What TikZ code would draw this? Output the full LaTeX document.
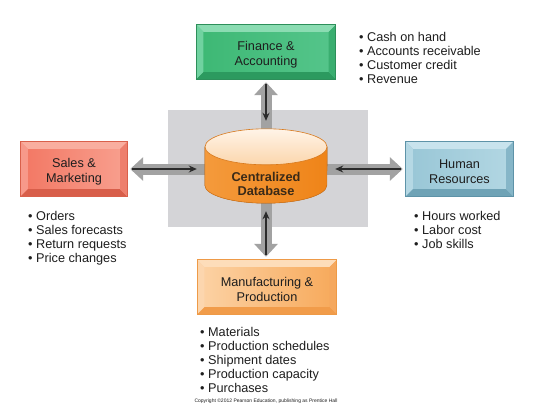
\documentclass[tikz,border=0pt]{standalone}
\usepackage{fontspec}
\setmainfont{Liberation Sans}
\usetikzlibrary{arrows.meta}
\definecolor{bgGray}{HTML}{D4D4D7}
\definecolor{barGray}{HTML}{A2A2A2}
\definecolor{darkArrow}{HTML}{2B2B2B}
\definecolor{txt}{HTML}{1E1E1E}
\definecolor{finL}{HTML}{3DB874}\definecolor{finR}{HTML}{55C58B}
\definecolor{finT}{HTML}{8BDCB2}\definecolor{finLe}{HTML}{70D2A0}
\definecolor{finB}{HTML}{2C9A5F}\definecolor{finRe}{HTML}{3AAE70}
\definecolor{finO}{HTML}{2D8F5A}
\definecolor{salL}{HTML}{F27763}\definecolor{salR}{HTML}{F8A08F}
\definecolor{salT}{HTML}{F9AE9F}\definecolor{salLe}{HTML}{F7998A}
\definecolor{salB}{HTML}{D85E4A}\definecolor{salRe}{HTML}{EE7F6D}
\definecolor{salO}{HTML}{D9604B}
\definecolor{hrL}{HTML}{98C6D6}\definecolor{hrR}{HTML}{B3D7E3}
\definecolor{hrT}{HTML}{C8E3ED}\definecolor{hrLe}{HTML}{B5D8E4}
\definecolor{hrB}{HTML}{6FA3B6}\definecolor{hrRe}{HTML}{86B6C8}
\definecolor{hrO}{HTML}{5E93A8}
\definecolor{mfgL}{HTML}{FCD3A6}\definecolor{mfgR}{HTML}{F7A95A}
\definecolor{mfgT}{HTML}{FDDDBA}\definecolor{mfgLe}{HTML}{FCD6AE}
\definecolor{mfgB}{HTML}{F19C4A}\definecolor{mfgRe}{HTML}{F5A85E}
\definecolor{mfgO}{HTML}{EE9A47}
\definecolor{cylL}{HTML}{F49A3C}\definecolor{cylM}{HTML}{F9B56A}
\definecolor{cylR}{HTML}{EF8418}\definecolor{cylE}{HTML}{D8791C}
\definecolor{cylT}{HTML}{FFF4E8}\definecolor{cylTb}{HTML}{FBD6AC}
\definecolor{cylTxt}{HTML}{3A2A18}
\newcommand\bevelbox[6]{%
  \fill[#2] (#1.north west) -- (#1.north east) -- ([shift={(-7,-7)}]#1.north east) -- ([shift={(7,-7)}]#1.north west) -- cycle;
  \fill[#3] (#1.north west) -- (#1.south west) -- ([shift={(7,7)}]#1.south west) -- ([shift={(7,-7)}]#1.north west) -- cycle;
  \fill[#4] (#1.south west) -- (#1.south east) -- ([shift={(-7,7)}]#1.south east) -- ([shift={(7,7)}]#1.south west) -- cycle;
  \fill[#5] (#1.north east) -- (#1.south east) -- ([shift={(-7,7)}]#1.south east) -- ([shift={(-7,-7)}]#1.north east) -- cycle;
  \draw[#6, line width=0.7pt] (#1.north west) rectangle (#1.south east);
}
\tikzset{
  dept/.style={rectangle, inner sep=0pt},
  deptlabel/.style={align=center, inner sep=0pt, text=txt,
    font=\fontsize{12.7}{14.5}\selectfont},
  blist/.style={align=left, inner sep=0pt, anchor=north west, text=txt,
    font=\fontsize{12.7}{14}\selectfont},
  grayarrow/.style={line width=11pt, barGray, -{Triangle[length=13pt,width=23pt]}, shorten >=3pt},
  darkarrow/.style={line width=1.5pt, darkArrow, -{Stealth[length=8pt,width=7pt]}, shorten <=5pt, shorten >=8pt}
}
\begin{document}
\begin{tikzpicture}[x=1pt,y=1pt]
\useasboundingbox (0,0) rectangle (539,-415);
\fill[white] (0,0) rectangle (539,-415);
% gray backdrop
\fill[bgGray] (168,-110) rectangle (368,-227);
% department boxes
\node[dept, minimum width=139pt, minimum height=54pt, left color=finL, right color=finR] (fin) at (266,-52) {};
\bevelbox{fin}{finT}{finLe}{finB}{finRe}{finO}
\node[deptlabel] (finlbl) at ([yshift=-2.5pt]fin.center) {Finance \&\\Accounting};
\node[dept, minimum width=106pt, minimum height=54pt, left color=salL, right color=salR] (sales) at (74,-169) {};
\bevelbox{sales}{salT}{salLe}{salB}{salRe}{salO}
\node[deptlabel] (saleslbl) at ([yshift=-2.5pt]sales.center) {Sales \&\\Marketing};
\node[dept, minimum width=107pt, minimum height=54pt, left color=hrL, right color=hrR] (hr) at (459.5,-169) {};
\bevelbox{hr}{hrT}{hrLe}{hrB}{hrRe}{hrO}
\node[deptlabel] (hrlbl) at ([yshift=-2.5pt]hr.center) {Human\\Resources};
\node[dept, minimum width=139pt, minimum height=54pt, left color=mfgL, right color=mfgR] (mfg) at (267,-287) {};
\bevelbox{mfg}{mfgT}{mfgLe}{mfgB}{mfgRe}{mfgO}
\node[deptlabel] (mfglbl) at ([yshift=-2.5pt]mfg.center) {Manufacturing \&\\Production};
% database anchor node
\node[rectangle, minimum width=122pt, minimum height=74pt, inner sep=0pt] (db) at (266,-166) {};
% gray arrows
\draw[grayarrow] (db.center) -- (fin.south);
\draw[grayarrow] (db.center) -- (mfg.north -| db.center);
\draw[grayarrow] (sales.east -| db.center) -- (sales.east);
\draw[grayarrow] (hr.west -| db.center) -- (hr.west);
% dark arrows
\draw[darkarrow] (fin.south) -- (db.north);
\draw[darkarrow] (mfg.north -| db.center) -- (db.south);
\draw[darkarrow] (sales.east) -- (sales.east -| db.west);
\draw[darkarrow] (hr.west) -- (hr.west -| db.east);
% cylinder
\fill[left color=cylL, middle color=cylM, right color=cylR]
  ([yshift=-18pt]db.north west) -- ([yshift=18pt]db.south west)
  arc[start angle=180, end angle=360, x radius=61pt, y radius=18pt]
  -- ([yshift=-18pt]db.north east) -- cycle;
\draw[cylE, line width=0.6pt]
  ([yshift=-18pt]db.north west) -- ([yshift=18pt]db.south west)
  arc[start angle=180, end angle=360, x radius=61pt, y radius=18pt]
  -- ([yshift=-18pt]db.north east);
\shade[top color=cylT, bottom color=cylTb, draw=cylE, line width=0.6pt]
  ([yshift=-18pt]db.north) ellipse[x radius=61pt, y radius=18pt];
\node[align=center, text=cylTxt, font=\fontsize{12.8}{14}\selectfont\bfseries] (dbtext) at (266,-184) {Centralized\\Database};
% bullet lists
\node[blist] (finlist) at (359,-32) {• Cash on hand\\• Accounts receivable\\• Customer credit\\• Revenue};
\node[blist] (saleslist) at (28,-211.5) {• Orders\\• Sales forecasts\\• Return requests\\• Price changes};
\node[blist] (hrlist) at (414,-211.5) {• Hours worked\\• Labor cost\\• Job skills};
\node[blist] (mfglist) at (200,-327.5) {• Materials\\• Production schedules\\• Shipment dates\\• Production capacity\\• Purchases};
\node[font=\fontsize{5}{6}\selectfont, text=txt] (copy) at (266,-401) {Copyright \textcopyright2012 Pearson Education, publishing as Prentice Hall};
\end{tikzpicture}
\end{document}
